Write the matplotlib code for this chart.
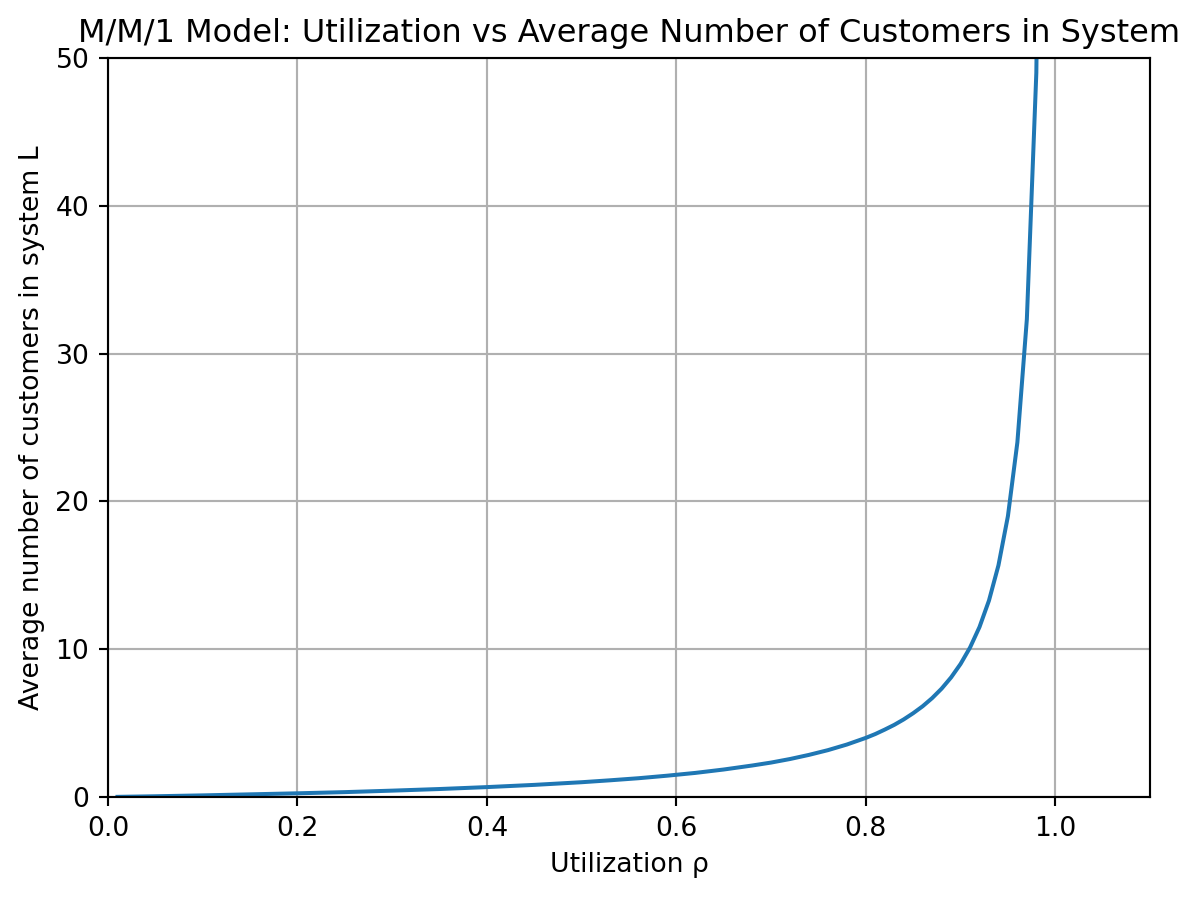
import numpy as np
import matplotlib.pyplot as plt

# === Data ===
rho = [0.01, 0.05, 0.10, 0.15, 0.20, 0.25, 0.30, 0.35, 0.40, 0.45,
       0.50, 0.53, 0.56, 0.59, 0.62, 0.65, 0.68, 0.70, 0.72, 0.74,
       0.76, 0.78, 0.80, 0.81, 0.82, 0.83, 0.84, 0.85, 0.86, 0.87,
       0.88, 0.89, 0.90, 0.91, 0.92, 0.93, 0.94, 0.95, 0.96, 0.97,
       0.98, 0.99]
L = [0.01, 0.05, 0.11, 0.18, 0.25, 0.33, 0.43, 0.54, 0.67, 0.82,
     1.00, 1.13, 1.27, 1.44, 1.63, 1.86, 2.13, 2.33, 2.57, 2.85,
     3.17, 3.55, 4.00, 4.26, 4.56, 4.88, 5.25, 5.67, 6.14, 6.69,
     7.33, 8.09, 9.00, 10.11, 11.50, 13.29, 15.67, 19.00, 24.00, 32.33,
     49.00, 99.00]

# === Plot ===
dpi = 192
fig = plt.figure(figsize=(1199 / dpi, 898 / dpi), dpi=dpi)
ax = fig.add_axes([108 / 1199, 101 / 898, 1042 / 1199, 739 / 898])
ax.plot(rho, L)
ax.set_title("M/M/1 Model: Utilization vs Average Number of Customers in System")
ax.set_xlabel("Utilization ρ")
ax.set_ylabel("Average number of customers in system L")
ax.grid(True)
ax.set_xlim(0, 1.1)
ax.set_ylim(0, 50)
fig.savefig("out.png", dpi=dpi)
